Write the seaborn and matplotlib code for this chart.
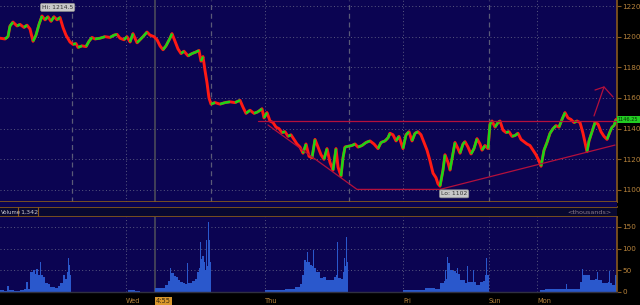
import numpy as np
import matplotlib
matplotlib.use("Agg")
import matplotlib.pyplot as plt
import seaborn as sns
from matplotlib.collections import LineCollection
from matplotlib.patches import Rectangle

# ---------------- data ----------------
t = [0, 5, 8, 10, 13, 17, 20, 24, 27, 30, 33, 36, 39, 42, 45, 48, 51, 54, 57, 60,
     63, 66, 70, 73, 76, 78, 82, 86, 89, 92, 95, 100, 105, 110, 114, 117, 120, 124, 127, 130,
     133, 137, 140, 143, 147, 150, 154, 157, 160, 163, 166, 170, 172, 175, 178, 181, 184, 188, 192, 196,
     199, 201, 203, 205, 207, 209, 211, 215, 220, 225, 230, 235, 240, 243, 246, 250, 254, 258, 262, 264,
     267, 270, 273, 276, 279, 282, 285, 288, 291, 294, 297, 300, 303, 306, 309, 312, 315, 318, 321, 324,
     327, 330, 333, 336, 338, 341, 343, 345, 348, 352, 355, 358, 362, 366, 370, 374, 378, 381, 385, 388,
     390, 393, 396, 399, 403, 406, 409, 412, 415, 418, 421, 424, 427, 430, 433, 436, 438, 440, 443, 445,
     448, 450, 453, 455, 458, 460, 463, 465, 468, 471, 474, 477, 480, 482, 485, 488, 490, 492, 495, 498,
     500, 503, 506, 509, 512, 515, 518, 521, 524, 527, 530, 533, 536, 539, 541, 544, 547, 550, 553, 556,
     559, 562, 565, 568, 571, 574, 577, 580, 583, 585, 587, 589, 592, 595, 598, 601, 604, 607, 610, 612,
     614, 616]
price = [1199, 1198.5, 1200, 1207, 1209.5, 1207, 1208, 1206, 1207.5, 1205, 1197, 1201, 1208, 1213.5, 1211, 1213, 1210, 1213, 1211, 1212.5,
         1206, 1201, 1196.5, 1195, 1195.5, 1193, 1194, 1193.5, 1197, 1199.5, 1198.5, 1199, 1200, 1199.5, 1201, 1201.5, 1199, 1198, 1200, 1196.5,
         1202, 1196, 1198, 1200, 1203, 1201, 1200, 1198, 1194, 1191.5, 1194, 1199, 1202, 1197, 1192, 1189, 1190.5, 1187.5, 1189, 1190,
         1191, 1184, 1187, 1178, 1170, 1160, 1156, 1157, 1156, 1157, 1157.5, 1157, 1158.5, 1154, 1150, 1152, 1150, 1151, 1153, 1147,
         1150.5, 1145, 1144, 1141, 1140, 1137.5, 1138, 1135, 1136, 1133, 1130, 1128, 1124, 1130, 1122, 1121, 1133, 1128, 1123, 1120,
         1127, 1118, 1113, 1127, 1115, 1109, 1121, 1128, 1128.5, 1129, 1130, 1128, 1129, 1131, 1132, 1130, 1127, 1131, 1132, 1134,
         1137, 1136, 1132, 1135, 1127, 1136, 1138, 1132, 1137, 1138, 1136, 1131, 1126, 1119, 1111, 1108, 1104, 1102.5, 1113, 1123,
         1118, 1113, 1124, 1131, 1127, 1124, 1130, 1131.5, 1128, 1123.5, 1127, 1133.5, 1130, 1126, 1129, 1127, 1143, 1145, 1141, 1144,
         1145, 1139, 1137.5, 1138, 1135, 1135.5, 1137, 1133, 1131.5, 1130, 1129, 1126, 1123, 1119, 1115.5, 1126, 1131, 1137, 1140, 1142,
         1141, 1146, 1150.5, 1147, 1146, 1144, 1145, 1144, 1137, 1131, 1125, 1132, 1138, 1144, 1143, 1138, 1135, 1133, 1138, 1141,
         1142, 1146]

vol_t = [0, 4, 7, 9, 14, 20, 24, 26, 28, 30, 33, 35, 36, 38, 40, 41, 43, 45, 48, 50,
         55, 58, 60, 63, 65, 67, 68, 69, 70, 71, 80, 100, 128, 135, 140, 155, 160, 165, 168, 170,
         171, 174, 176, 178, 180, 183, 185, 187, 188, 192, 195, 197, 199, 200, 201, 202, 204, 205, 206, 207,
         208, 209, 210, 211, 230, 265, 275, 285, 295, 300, 302, 304, 306, 307, 308, 310, 312, 313, 314, 316,
         320, 323, 326, 330, 334, 336, 337, 338, 341, 343, 344, 345, 346, 347, 348, 380, 403, 415, 425, 435,
         440, 444, 445, 446, 447, 448, 450, 453, 456, 457, 458, 460, 465, 467, 468, 472, 473, 474, 476, 480,
         483, 485, 486, 487, 489, 540, 545, 555, 563, 566, 567, 575, 580, 582, 583, 587, 590, 595, 597, 598,
         602, 608, 609, 610, 612, 615, 617]
vol_v = [4, 3, 14, 4, 2, 5, 8, 23, 8, 45, 50, 42, 53, 40, 69, 40, 35, 21, 18, 12,
         10, 14, 21, 39, 30, 46, 78, 62, 40, 1, 1, 0.5, 4, 3, 1, 9, 10, 16, 25, 55,
         44, 38, 35, 28, 23, 20, 18, 67, 21, 25, 30, 46, 56, 115, 75, 83, 70, 50, 120, 60,
         161, 120, 70, 1, 1, 4, 5, 7, 12, 18, 40, 74, 70, 92, 70, 62, 60, 97, 55, 46,
         32, 35, 28, 28, 35, 39, 115, 32, 30, 45, 78, 60, 127, 70, 1, 1, 4, 5, 9, 8,
         21, 25, 51, 30, 81, 67, 51, 48, 44, 55, 42, 28, 21, 60, 23, 23, 51, 23, 16, 23,
         25, 39, 78, 40, 1, 4, 7, 7, 7, 18, 7, 7, 23, 53, 40, 39, 28, 30, 46, 28,
         21, 22, 48, 20, 16, 39, 39]

price_ticks = [1100, 1120, 1140, 1160, 1180, 1200, 1220]
vol_ticks = [0, 50, 100, 150]
day_labels = ["Wed", "Thu", "Fri", "Sun", "Mon"]
day_pos = [126, 265, 403, 489, 537]
dashed_pos = [72, 211, 349, 489]
dotted_pos = [126, 265, 403, 537]
marker_pos = 155
marker_label = "4:55"
hi_val, hi_t = 1214.5, 42
lo_val, lo_t = 1102, 440
last_price = "1146.25"
last_val = 1146.25
vol_header = "Volume"
vol_last = "1,342"
resist = ([258, 617], [1145.0, 1145.0])
support1 = ([268, 357, 440], [1142.4, 1100.4, 1100.4])
support2 = ([440, 615], [1100.4, 1129.3])
arrow_shaft = ([594, 604], [1148.3, 1167.2])
arrow_head = ([595, 604, 613], [1165.2, 1167.2, 1160.7])

# ---------------- style ----------------
sns.set_style("dark")
plt.rcParams['font.family'] = ['DejaVu Sans']

NAVY = '#0b0452'
ORANGE = '#8a5a1c'
TICKC = '#b8843c'
GRID = '#5a5a80'
RED = '#ff1a14'
GREEN = '#18d818'
ANN = '#b4103c'

W, H = 640, 305
fig = plt.figure(figsize=(6.4, 3.05), dpi=100, facecolor='black')

def fr(x0, y0, x1, y1):
    return [x0 / W, 1 - y1 / H, (x1 - x0) / W, (y1 - y0) / H]

ax = fig.add_axes(fr(0, 0, 617, 202))
ax_h = fig.add_axes(fr(0, 207, 617, 217))
axv = fig.add_axes(fr(0, 217, 617, 292))

# gap between panels
fig.patches.append(Rectangle((0, 1 - 207 / H), 617 / W, 5 / H, transform=fig.transFigure,
                             facecolor=NAVY, edgecolor='none', zorder=0))

XL = (0, 617)
top_p = 1220 + 6 / 1.5333
bot_p = 1100 - 12 / 1.5333

# ---- main panel
ax.set_facecolor(NAVY)
ax.set_xlim(*XL)
ax.set_ylim(bot_p, top_p)
for p in price_ticks:
    ax.axhline(p, color=GRID, lw=0.7, ls=(0, (1, 2.5)), zorder=1)
for x in dashed_pos:
    ax.axvline(x, color='#5a5a78', lw=0.9, ls=(0, (4, 3)), zorder=1)
for x in dotted_pos:
    ax.axvline(x, color=GRID, lw=0.7, ls=(0, (1, 2.5)), zorder=1)
ax.axvline(marker_pos, color='#4a4a5a', lw=1.2, zorder=1)

sns.lineplot(x=t, y=price, ax=ax, color=RED, lw=2.1, zorder=3, estimator=None, sort=False)
tt = np.array(t, float); pp = np.array(price, float)
segs = [[(tt[i], pp[i]), (tt[i + 1], pp[i + 1])] for i in range(len(tt) - 1) if pp[i + 1] > pp[i]]
ax.add_collection(LineCollection(segs, colors=GREEN, linewidths=1.8, zorder=4))

for xs, ys in (resist, support1, support2, arrow_shaft, arrow_head):
    ax.plot(xs, ys, color=ANN, lw=0.9, zorder=5)

ax.yaxis.tick_right()
ax.set_yticks(price_ticks)
ax.set_yticklabels([str(p) for p in price_ticks])
ax.tick_params(axis='y', colors=ORANGE, labelcolor=TICKC, labelsize=5.2, length=3, width=0.8, pad=1, right=True)
ax.set_xticks([])
for s in ('left', 'top'):
    ax.spines[s].set_visible(False)
for s in ('right', 'bottom'):
    ax.spines[s].set_color(ORANGE); ax.spines[s].set_linewidth(1.2)
ax.grid(False)

bbox_g = dict(boxstyle='round,pad=0.25', fc='#c8c8c8', ec='#909090', lw=0.5)
ax.text(hi_t, hi_val + 4.6, f"Hi: {hi_val}", fontsize=4.3, color='#303030', ha='left', va='center',
        bbox=bbox_g, zorder=6)
ax.text(lo_t + 1, lo_val - 4.5, f"Lo: {lo_val:g}", fontsize=4.3, color='#303030', ha='left', va='center',
        bbox=bbox_g, zorder=6)
ax.text(618, last_val, last_price, fontsize=3.6, color='#0a2a0a', ha='left', va='center',
        bbox=dict(boxstyle='square,pad=0.2', fc='#22cc22', ec='none'), clip_on=False, zorder=6)

# ---- header
ax_h.set_facecolor('#080830')
ax_h.set_xlim(*XL); ax_h.set_ylim(0, 1)
ax_h.set_xticks([]); ax_h.set_yticks([])
for s in ('left', 'right'):
    ax_h.spines[s].set_visible(False)
for s in ('top', 'bottom'):
    ax_h.spines[s].set_color(ORANGE); ax_h.spines[s].set_linewidth(1.2)
ax_h.text(0.5, 0.5, vol_header, fontsize=3.9, color='#c8c8d0', ha='left', va='center')
ax_h.axvline(17.5, color=ORANGE, lw=0.8)
ax_h.text(20, 0.5, vol_last, fontsize=4.6, color='#c8c8d0', ha='left', va='center')
ax_h.axvline(37.5, color=ORANGE, lw=0.8)
ax_h.text(612, 0.5, "<thousands>", fontsize=4.6, color='#8a7a8a', ha='right', va='center')
ax_h.grid(False)

# ---- volume panel
axv.set_facecolor(NAVY)
axv.set_xlim(*XL)
axv.set_ylim(0, 173)
for v in vol_ticks[1:]:
    axv.axhline(v, color=GRID, lw=0.7, ls=(0, (1, 2.5)), zorder=1)
for x in day_pos:
    axv.axvline(x, color=GRID, lw=0.7, ls=(0, (1, 2.5)), zorder=1)
axv.axvline(marker_pos, color='#4a4a5a', lw=1.2, zorder=1)
axv.fill_between(vol_t, vol_v, step='post', color='#2a58cc', lw=0, zorder=2)
axv.yaxis.tick_right()
axv.set_yticks(vol_ticks)
axv.set_yticklabels([str(v) for v in vol_ticks])
axv.tick_params(axis='y', colors=ORANGE, labelcolor=TICKC, labelsize=5.2, length=3, width=0.8, pad=1, right=True)
axv.set_xticks([])
for s in ('left', 'top'):
    axv.spines[s].set_visible(False)
axv.spines['right'].set_color(ORANGE); axv.spines['right'].set_linewidth(1.2)
axv.spines['bottom'].set_color('#303040'); axv.spines['bottom'].set_linewidth(1)
axv.grid(False)

# day labels below
for lab, x in zip(day_labels, day_pos):
    axv.text(x, -0.08, lab, transform=axv.get_xaxis_transform(), fontsize=4.8, color=TICKC,
             ha='left', va='top', clip_on=False)
axv.text(marker_pos + 1, -0.08, marker_label, transform=axv.get_xaxis_transform(), fontsize=4.8,
         color='#3a2a10', ha='left', va='top', clip_on=False,
         bbox=dict(boxstyle='square,pad=0.2', fc='#d8962c', ec='none'))

fig.savefig('out.png', dpi=100, facecolor='black')
